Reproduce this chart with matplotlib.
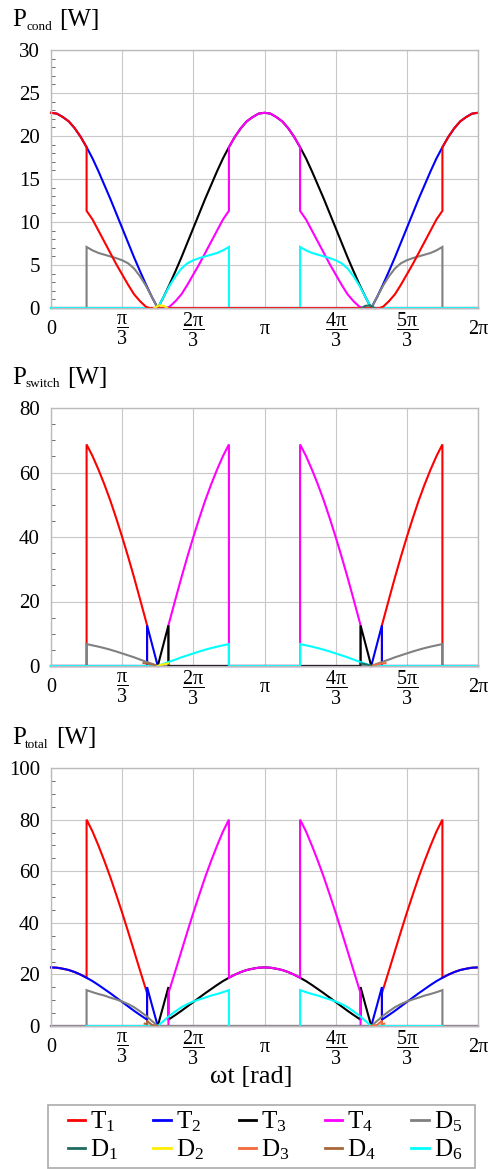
import numpy as np
import matplotlib
matplotlib.use('Agg')
import matplotlib.pyplot as plt
from matplotlib.ticker import MultipleLocator
from matplotlib.lines import Line2D
from matplotlib.patches import Rectangle

plt.rcParams['font.family'] = ['Liberation Serif', 'DejaVu Serif']
plt.rcParams['mathtext.fontset'] = 'custom'
plt.rcParams['mathtext.rm'] = 'Liberation Serif'
plt.rcParams['mathtext.it'] = 'Liberation Serif:italic'
plt.rcParams['mathtext.bf'] = 'Liberation Serif:bold'

# ---- data (angle in degrees, losses in W) ----

# conduction losses
cond_T1_deg = [0, 5, 10, 15, 20, 25, 30, 30, 35, 40, 45, 50, 55, 60, 65, 70, 75, 80, 83,
               277, 280, 285, 290, 295, 300, 305, 310, 315, 320, 325, 330, 330, 335, 340, 345, 350, 355, 360]
cond_T1_w = [22.7, 22.6, 22.2, 21.7, 20.9, 19.9, 18.7, 11.3, 10.3, 9.0, 7.7, 6.4, 5.1, 3.9, 2.7, 1.6, 0.8, 0.15, 0,
             0, 0.15, 0.8, 1.6, 2.7, 3.9, 5.1, 6.4, 7.7, 9.0, 10.3, 11.3, 18.7, 19.9, 20.9, 21.7, 22.2, 22.6, 22.7]
cond_T2_deg = [0, 5, 10, 15, 20, 25, 30, 35, 40, 45, 50, 55, 60, 65, 70, 75, 80, 85, 90,
               270, 275, 280, 285, 290, 295, 300, 305, 310, 315, 320, 325, 330, 335, 340, 345, 350, 355, 360]
cond_T2_w = [22.7, 22.6, 22.2, 21.7, 20.9, 19.9, 18.7, 17.4, 15.9, 14.3, 12.7, 11.0, 9.3, 7.6, 5.9, 4.3, 2.75, 1.3, 0,
             0, 1.3, 2.75, 4.3, 5.9, 7.6, 9.3, 11.0, 12.7, 14.3, 15.9, 17.4, 18.7, 19.9, 20.9, 21.7, 22.2, 22.6, 22.7]
cond_T3_deg = [0, 90, 95, 100, 105, 110, 115, 120, 125, 130, 135, 140, 145, 150,
               155, 160, 165, 170, 175, 180, 185, 190, 195, 200, 205,
               210, 215, 220, 225, 230, 235, 240, 245, 250, 255, 260, 265, 270, 360]
cond_T3_w = [0, 0, 1.3, 2.75, 4.3, 5.9, 7.6, 9.3, 11.0, 12.7, 14.3, 15.9, 17.4, 18.7,
             19.9, 20.9, 21.7, 22.2, 22.6, 22.7, 22.6, 22.2, 21.7, 20.9, 19.9,
             18.7, 17.4, 15.9, 14.3, 12.7, 11.0, 9.3, 7.6, 5.9, 4.3, 2.75, 1.3, 0, 0]
cond_T4_deg = [0, 97, 100, 105, 110, 115, 120, 125, 130, 135, 140, 145, 150, 150,
               155, 160, 165, 170, 175, 180, 185, 190, 195, 200, 205, 210, 210,
               215, 220, 225, 230, 235, 240, 245, 250, 255, 260, 263, 360]
cond_T4_w = [0, 0, 0.15, 0.8, 1.6, 2.7, 3.9, 5.1, 6.4, 7.7, 9.0, 10.3, 11.3, 18.7,
             19.9, 20.9, 21.7, 22.2, 22.6, 22.7, 22.6, 22.2, 21.7, 20.9, 19.9, 18.7, 11.3,
             10.3, 9.0, 7.7, 6.4, 5.1, 3.9, 2.7, 1.6, 0.8, 0.15, 0, 0]
cond_D5_deg = [0, 30, 30, 35, 40, 45, 50, 55, 60, 65, 70, 75, 80, 85, 90,
               270, 275, 280, 285, 290, 295, 300, 305, 310, 315, 320, 325, 330, 330, 360]
cond_D5_w = [0, 0, 7.1, 6.7, 6.4, 6.2, 6.0, 5.8, 5.55, 5.2, 4.6, 3.7, 2.6, 1.3, 0,
             0, 1.3, 2.6, 3.7, 4.6, 5.2, 5.55, 5.8, 6.0, 6.2, 6.4, 6.7, 7.1, 0, 0]
cond_D6_deg = [0, 90, 95, 100, 105, 110, 115, 120, 125, 130, 135, 140, 145, 150, 150,
               210, 210, 215, 220, 225, 230, 235, 240, 245, 250, 255, 260, 265, 270, 360]
cond_D6_w = [0, 0, 1.3, 2.6, 3.7, 4.6, 5.2, 5.55, 5.8, 6.0, 6.2, 6.4, 6.7, 7.1, 0,
             0, 7.1, 6.7, 6.4, 6.2, 6.0, 5.8, 5.55, 5.2, 4.6, 3.7, 2.6, 1.3, 0, 0]
cond_D2_deg = [87, 91, 95, 98]
cond_D2_w = [0, 0.3, 0.25, 0]
cond_D1_deg = [262, 265, 269, 273]
cond_D1_w = [0, 0.25, 0.3, 0]

# switching losses
sw_T1_deg = [0, 30, 30, 35, 40, 45, 50, 55, 60, 65, 70, 75, 80, 81, 81,
             279, 279, 280, 285, 290, 295, 300, 305, 310, 315, 320, 325, 330, 330, 360]
sw_T1_w = [0, 0, 68.7, 65.1, 60.9, 56.3, 51.3, 45.8, 40.0, 33.9, 27.5, 20.8, 14.0, 12.6, 0,
           0, 12.6, 14.0, 20.8, 27.5, 33.9, 40.0, 45.8, 51.3, 56.3, 60.9, 65.1, 68.7, 0, 0]
sw_T2_deg = [0, 81, 81, 85, 90, 270, 275, 279, 279, 360]
sw_T2_w = [0, 0, 12.6, 7.0, 0, 0, 7.0, 12.6, 0, 0]
sw_T3_deg = [0, 90, 95, 99, 99, 261, 261, 265, 270, 360]
sw_T3_w = [0, 0, 7.0, 12.6, 0, 0, 12.6, 7.0, 0, 0]
sw_T4_deg = [0, 99, 99, 100, 105, 110, 115, 120, 125, 130, 135, 140, 145, 150, 150,
             210, 210, 215, 220, 225, 230, 235, 240, 245, 250, 255, 260, 261, 261, 360]
sw_T4_w = [0, 0, 12.6, 14.0, 20.8, 27.5, 33.9, 40.0, 45.8, 51.3, 56.3, 60.9, 65.1, 68.7, 0,
           0, 68.7, 65.1, 60.9, 56.3, 51.3, 45.8, 40.0, 33.9, 27.5, 20.8, 14.0, 12.6, 0, 0]
sw_D5_deg = [0, 30, 30, 35, 40, 45, 50, 55, 60, 65, 70, 75, 80, 85, 90,
             270, 275, 280, 285, 290, 295, 300, 305, 310, 315, 320, 325, 330, 330, 360]
sw_D5_w = [0, 0, 6.8, 6.4, 6.0, 5.55, 5.05, 4.5, 3.9, 3.3, 2.7, 2.0, 1.35, 0.7, 0,
           0, 0.7, 1.35, 2.0, 2.7, 3.3, 3.9, 4.5, 5.05, 5.55, 6.0, 6.4, 6.8, 0, 0]
sw_D6_deg = [0, 90, 95, 100, 105, 110, 115, 120, 125, 130, 135, 140, 145, 150, 150,
             210, 210, 215, 220, 225, 230, 235, 240, 245, 250, 255, 260, 265, 270, 360]
sw_D6_w = [0, 0, 0.7, 1.35, 2.0, 2.7, 3.3, 3.9, 4.5, 5.05, 5.55, 6.0, 6.4, 6.8, 0,
           0, 6.8, 6.4, 6.0, 5.55, 5.05, 4.5, 3.9, 3.3, 2.7, 2.0, 1.35, 0.7, 0, 0]
sw_D4_deg = [78, 82, 86, 90]
sw_D4_w = [0.9, 0.7, 0.4, 0]
sw_D2_deg = [90, 93, 96, 99]
sw_D2_w = [0, 0.4, 0.6, 0.8]
sw_D3_deg = [270, 274, 278, 282]
sw_D3_w = [0, 0.4, 0.7, 0.9]
sw_D1_deg = [261, 264, 267, 270]
sw_D1_w = [0.8, 0.6, 0.4, 0]

# total losses
tot_T1_deg = [0, 5, 10, 15, 20, 25, 30, 30, 35, 40, 45, 50, 55, 60, 65, 70, 75, 80, 81, 81,
              279, 279, 280, 285, 290, 295, 300, 305, 310, 315, 320, 325, 330, 330, 335, 340, 345, 350, 355, 360]
tot_T1_w = [22.7, 22.6, 22.2, 21.7, 20.9, 19.9, 18.7, 80.0, 75.4, 69.9, 64.0, 57.7, 50.9, 43.9, 36.6, 29.1, 21.6, 14.2, 12.7, 0,
            0, 12.7, 14.2, 21.6, 29.1, 36.6, 43.9, 50.9, 57.7, 64.0, 69.9, 75.4, 80.0, 18.7, 19.9, 20.9, 21.7, 22.2, 22.6, 22.7]
tot_T2_deg = [0, 5, 10, 15, 20, 25, 30, 35, 40, 45, 50, 55, 60, 65, 70, 75, 80, 81, 81, 85, 90,
              270, 275, 279, 279, 280, 285, 290, 295, 300, 305, 310, 315, 320, 325, 330, 335, 340, 345, 350, 355, 360]
tot_T2_w = [22.7, 22.6, 22.2, 21.7, 20.9, 19.9, 18.7, 17.4, 15.9, 14.3, 12.7, 11.0, 9.3, 7.6, 5.9, 4.3, 2.75, 2.45, 15.1, 8.3, 0,
            0, 8.3, 15.1, 2.45, 2.75, 4.3, 5.9, 7.6, 9.3, 11.0, 12.7, 14.3, 15.9, 17.4, 18.7, 19.9, 20.9, 21.7, 22.2, 22.6, 22.7]
tot_T3_deg = [0, 90, 95, 99, 99, 100, 105, 110, 115, 120, 125, 130, 135, 140, 145, 150,
              155, 160, 165, 170, 175, 180, 185, 190, 195, 200, 205,
              210, 215, 220, 225, 230, 235, 240, 245, 250, 255, 260, 261, 261, 265, 270, 360]
tot_T3_w = [0, 0, 8.3, 15.1, 2.45, 2.75, 4.3, 5.9, 7.6, 9.3, 11.0, 12.7, 14.3, 15.9, 17.4, 18.7,
            19.9, 20.9, 21.7, 22.2, 22.6, 22.7, 22.6, 22.2, 21.7, 20.9, 19.9,
            18.7, 17.4, 15.9, 14.3, 12.7, 11.0, 9.3, 7.6, 5.9, 4.3, 2.75, 2.45, 15.1, 8.3, 0, 0]
tot_T4_deg = [0, 99, 99, 100, 105, 110, 115, 120, 125, 130, 135, 140, 145, 150, 150,
              155, 160, 165, 170, 175, 180, 185, 190, 195, 200, 205, 210, 210,
              215, 220, 225, 230, 235, 240, 245, 250, 255, 260, 261, 261, 360]
tot_T4_w = [0, 0, 12.7, 14.2, 21.6, 29.1, 36.6, 43.9, 50.9, 57.7, 64.0, 69.9, 75.4, 80.0, 18.7,
            19.9, 20.9, 21.7, 22.2, 22.6, 22.7, 22.6, 22.2, 21.7, 20.9, 19.9, 18.7, 80.0,
            75.4, 69.9, 64.0, 57.7, 50.9, 43.9, 36.6, 29.1, 21.6, 14.2, 12.7, 0, 0]
tot_D5_deg = [0, 30, 30, 35, 40, 45, 50, 55, 60, 65, 70, 75, 80, 85, 90,
              270, 275, 280, 285, 290, 295, 300, 305, 310, 315, 320, 325, 330, 330, 360]
tot_D5_w = [0, 0, 13.9, 13.1, 12.4, 11.8, 11.0, 10.3, 9.5, 8.5, 7.3, 5.7, 4.0, 2.0, 0,
            0, 2.0, 4.0, 5.7, 7.3, 8.5, 9.5, 10.3, 11.0, 11.8, 12.4, 13.1, 13.9, 0, 0]
tot_D6_deg = [30, 90, 95, 100, 105, 110, 115, 120, 125, 130, 135, 140, 145, 150, 150, np.nan,
              210, 210, 215, 220, 225, 230, 235, 240, 245, 250, 255, 260, 265, 270, 330]
tot_D6_w = [0, 0, 2.0, 4.0, 5.7, 7.3, 8.5, 9.5, 10.3, 11.0, 11.8, 12.4, 13.1, 13.9, 0, np.nan,
            0, 13.9, 13.1, 12.4, 11.8, 11.0, 10.3, 9.5, 8.5, 7.3, 5.7, 4.0, 2.0, 0, 0]
tot_D4_deg = [79, 81, 81, 85, 90]
tot_D4_w = [0.9, 0.7, 2.0, 0.4, 0]
tot_D3_deg = [270, 275, 279, 279, 281]
tot_D3_w = [0, 0.4, 2.0, 0.7, 0.9]

colors = {'T1': '#ff0000', 'T2': '#0000ff', 'T3': '#000000', 'T4': '#ff00ff', 'D5': '#808080',
          'D1': '#1f6b60', 'D2': '#ffee00', 'D3': '#f26a3a', 'D4': '#a8683a', 'D6': '#00ffff'}

# (name, deg, watts) in drawing order
panel_cond = [('T2', cond_T2_deg, cond_T2_w), ('T3', cond_T3_deg, cond_T3_w),
              ('T4', cond_T4_deg, cond_T4_w), ('D5', cond_D5_deg, cond_D5_w),
              ('D6', cond_D6_deg, cond_D6_w), ('T1', cond_T1_deg, cond_T1_w),
              ('D2', cond_D2_deg, cond_D2_w), ('D1', cond_D1_deg, cond_D1_w)]
panel_sw = [('T1', sw_T1_deg, sw_T1_w), ('T2', sw_T2_deg, sw_T2_w),
            ('T4', sw_T4_deg, sw_T4_w), ('D5', sw_D5_deg, sw_D5_w),
            ('T3', sw_T3_deg, sw_T3_w), ('D6', sw_D6_deg, sw_D6_w),
            ('D4', sw_D4_deg, sw_D4_w), ('D2', sw_D2_deg, sw_D2_w),
            ('D3', sw_D3_deg, sw_D3_w), ('D1', sw_D1_deg, sw_D1_w)]
panel_tot = [('T1', tot_T1_deg, tot_T1_w), ('T2', tot_T2_deg, tot_T2_w),
             ('T3', tot_T3_deg, tot_T3_w), ('T4', tot_T4_deg, tot_T4_w),
             ('D5', tot_D5_deg, tot_D5_w), ('D6', tot_D6_deg, tot_D6_w),
             ('D4', tot_D4_deg, tot_D4_w), ('D3', tot_D3_deg, tot_D3_w)]

xtick_labels = ['0', r'$\dfrac{\mathrm{π}}{3}$', r'$\dfrac{2\mathrm{π}}{3}$', 'π',
                r'$\dfrac{4\mathrm{π}}{3}$', r'$\dfrac{5\mathrm{π}}{3}$', '2π']

W, H = 490, 1169
fig = plt.figure(figsize=(W / 100, H / 100), dpi=100)


def px_x(x):
    return x / W


def px_y(y):
    return 1 - y / H


def make_axes(top_px, series, ymax, ystep, yminor, sub, base, sub_x, w_x):
    ax = fig.add_axes([51 / W, 1 - (top_px + 258) / H, 427 / W, 258 / H])
    for name, deg, w in series:
        ax.plot(np.radians(np.array(deg, dtype=float)), np.array(w, dtype=float),
                color=colors[name], lw=1.5, clip_on=False, solid_joinstyle='miter')
    ax.set_xlim(0, 2 * np.pi)
    ax.set_ylim(0, ymax)
    ax.set_xticks(np.arange(7) * np.pi / 3)
    ax.set_xticklabels(xtick_labels, va='center', fontsize=14.5)
    ax.yaxis.set_major_locator(MultipleLocator(ystep))
    ax.yaxis.set_minor_locator(MultipleLocator(yminor))
    ax.tick_params(axis='x', length=0, pad=15.5)
    ax.tick_params(axis='y', which='both', direction='in', labelsize=15, pad=8,
                   color='#555555', width=0.6)
    ax.tick_params(axis='y', which='major', length=0)
    ax.tick_params(axis='y', which='minor', length=3)
    ax.grid(True, color='#c8c8c8', lw=0.8)
    ax.set_axisbelow(True)
    for s in ax.spines.values():
        s.set_color('#bbbbbb')
        s.set_linewidth(1.0)
    # axis title "P_xxx [W]" above the panel
    fig.text(px_x(12), px_y(base), 'P', fontsize=18, va='baseline', ha='left')
    fig.text(px_x(sub_x), px_y(base + 3.5), sub, fontsize=9.5, va='baseline', ha='left')
    fig.text(px_x(w_x), px_y(base), '[W]', fontsize=18, va='baseline', ha='left')
    return ax


make_axes(50, panel_cond, 30, 5, 1, 'cond', 26, 26.5, 59)
make_axes(408, panel_sw, 80, 20, 5, 'switch', 384, 25, 67)
make_axes(768, panel_tot, 100, 20, 5, 'total', 744, 25, 56)

fig.text(px_x(251), px_y(1083), 'ωt [rad]', fontsize=19, ha='center', va='baseline')

legend_order = ['T1', 'D1', 'T2', 'D2', 'T3', 'D3', 'T4', 'D4', 'D5', 'D6']
handles = [Line2D([], [], color=colors[n], lw=2) for n in legend_order]
labels = [n[0] + '$_{' + n[1] + '}$' for n in legend_order]
leg = fig.legend(handles, labels, ncol=5, loc='center',
                 bbox_to_anchor=(px_x(265), px_y(1136)),
                 fontsize=18, handlelength=0.7, handletextpad=0.2, labelspacing=0.12,
                 borderpad=0, borderaxespad=0, columnspacing=1.4, frameon=False)
fig.add_artist(Rectangle((px_x(48), px_y(1168)), 427 / W, 63 / H, transform=fig.transFigure,
                         fill=False, edgecolor='#aaaaaa', lw=1.2))

fig.savefig('out.png', dpi=100)
